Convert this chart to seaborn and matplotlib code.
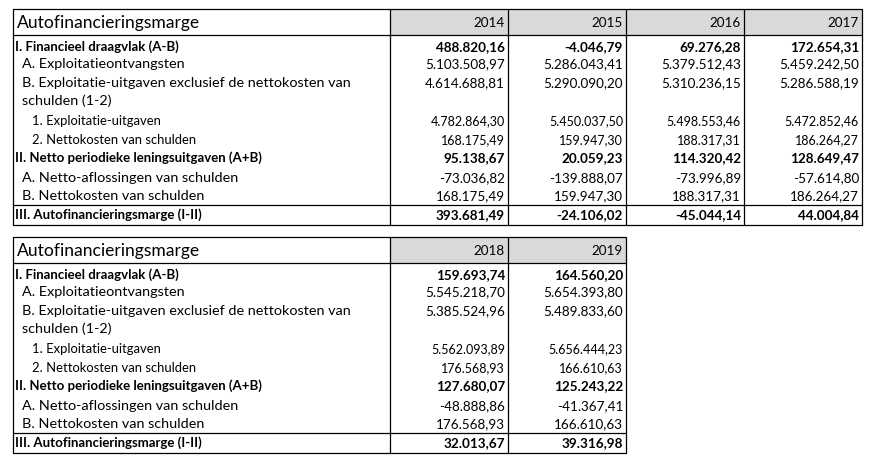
import matplotlib
matplotlib.use("Agg")
import matplotlib.pyplot as plt
from matplotlib.patches import Rectangle
import seaborn as sns

sns.set_theme(style="white")
plt.rcParams["font.family"] = ["Lato", "DejaVu Sans"]

TITLE = "Autofinancieringsmarge"

row_labels = [
    "I. Financieel draagvlak (A-B)",
    "A. Exploitatieontvangsten",
    "B. Exploitatie-uitgaven exclusief de nettokosten van",
    "schulden (1-2)",
    "1. Exploitatie-uitgaven",
    "2. Nettokosten van schulden",
    "II. Netto periodieke leningsuitgaven (A+B)",
    "A. Netto-aflossingen van schulden",
    "B. Nettokosten van schulden",
    "III. Autofinancieringsmarge (I-II)",
]
# soort rij: h = hoofdrij (vet), n = normaal, s = klein (sub)
row_kind = ["h", "n", "n", "n", "s", "s", "h", "n", "n", "h"]

years_top = ["2014", "2015", "2016", "2017"]
years_bottom = ["2018", "2019"]

v2014 = [488820.16, 5103508.97, 4614688.81, None, 4782864.30, 168175.49, 95138.67, -73036.82, 168175.49, 393681.49]
v2015 = [-4046.79, 5286043.41, 5290090.20, None, 5450037.50, 159947.30, 20059.23, -139888.07, 159947.30, -24106.02]
v2016 = [69276.28, 5379512.43, 5310236.15, None, 5498553.46, 188317.31, 114320.42, -73996.89, 188317.31, -45044.14]
v2017 = [172654.31, 5459242.50, 5286588.19, None, 5472852.46, 186264.27, 128649.47, -57614.80, 186264.27, 44004.84]
v2018 = [159693.74, 5545218.70, 5385524.96, None, 5562093.89, 176568.93, 127680.07, -48888.86, 176568.93, 32013.67]
v2019 = [164560.20, 5654393.80, 5489833.60, None, 5656444.23, 166610.63, 125243.22, -41367.41, 166610.63, 39316.98]

values = {"2014": v2014, "2015": v2015, "2016": v2016, "2017": v2017, "2018": v2018, "2019": v2019}

# opmaak
W, H = 876, 467
HEADER_GREY = "#d9d9d9"
LW = 0.9
FS_LABEL = {"h": 9.5, "n": 10.4, "s": 9.4}
FS_NUM = {"h": 9.7, "n": 9.7, "s": 9.0}
FS_TITLE = 12.6
LABEL_X = {"h": 15, "n": 22, "s": 32}
ROW_OFFSETS = [38, 55, 74, 92, 112, 131, 149, 169, 187, 206]
COL_LEFT = 13
LABEL_RIGHT = 390
COL_W = 118


def fmt_nl(v):
    s = f"{v:,.2f}"
    return s.replace(",", "#").replace(".", ",").replace("#", ".")


def draw_table(ax, top, years):
    header_h = 26
    bottom = top + 216
    sep_y = top + 195.5
    col_edges = [LABEL_RIGHT + i * COL_W for i in range(len(years) + 1)]
    right = col_edges[-1]

    # grijze kopcellen
    for i in range(len(years)):
        ax.add_patch(Rectangle((col_edges[i], top), COL_W, header_h,
                               facecolor=HEADER_GREY, edgecolor="none", zorder=1))

    # randen en lijnen
    ax.plot([COL_LEFT, right, right, COL_LEFT, COL_LEFT],
            [top, top, bottom, bottom, top], color="black", lw=LW, zorder=3)
    ax.plot([COL_LEFT, right], [top + header_h, top + header_h], color="black", lw=LW, zorder=3)
    ax.plot([COL_LEFT, right], [sep_y, sep_y], color="black", lw=LW, zorder=3)
    for x in col_edges[:-1]:
        ax.plot([x, x], [top, bottom], color="black", lw=LW, zorder=3)

    # kop
    ax.text(COL_LEFT + 4, top + header_h / 2 + 1, TITLE, fontsize=FS_TITLE,
            ha="left", va="center", color="black", zorder=4)
    for i, yr in enumerate(years):
        ax.text(col_edges[i + 1] - 3, top + header_h / 2 + 1, yr, fontsize=FS_NUM["n"],
                ha="right", va="center", color="black", zorder=4)

    # rijen
    for r, (label, kind) in enumerate(zip(row_labels, row_kind)):
        y = top + ROW_OFFSETS[r]
        fw = "bold" if kind == "h" else "normal"
        ax.text(LABEL_X[kind], y, label, fontsize=FS_LABEL[kind], fontweight=fw,
                ha="left", va="center", color="black", zorder=4)
        for i, yr in enumerate(years):
            v = values[yr][r]
            if v is None:
                continue
            ax.text(col_edges[i + 1] - 3, y, fmt_nl(v), fontsize=FS_NUM[kind], fontweight=fw,
                    ha="right", va="center", color="black", zorder=4)


fig = plt.figure(figsize=(W / 100, H / 100), dpi=100)
ax = fig.add_axes([0, 0, 1, 1])
ax.set_xlim(0, W)
ax.set_ylim(H, 0)
ax.axis("off")

draw_table(ax, 9, years_top)
draw_table(ax, 237, years_bottom)

fig.savefig("out.png", dpi=100, facecolor="white")
